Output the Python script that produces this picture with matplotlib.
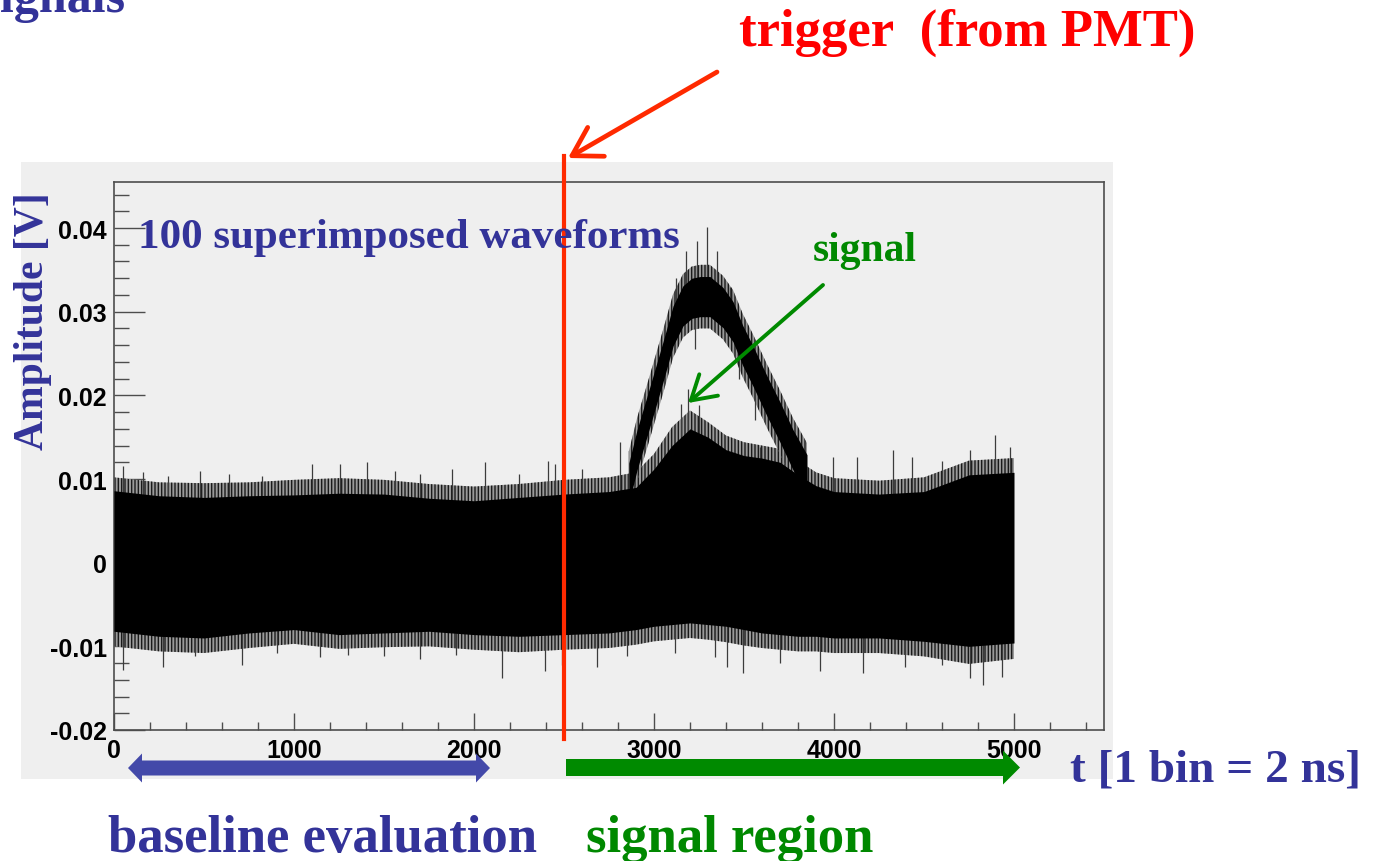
import numpy as np
import matplotlib.pyplot as plt
import matplotlib.transforms as mtransforms
from matplotlib.patches import Rectangle, Polygon, FancyArrowPatch, ArrowStyle
from matplotlib.ticker import MultipleLocator, FixedLocator

# ---- data (bins of 2 ns, amplitude in V) ----
env_t = [0, 250, 500, 750, 1000, 1250, 1500, 1750, 2000, 2250, 2500, 2750, 2900,
         3000, 3100, 3200, 3300, 3400, 3500, 3600, 3700, 3800, 3900, 4000, 4250,
         4500, 4750, 5000]
# dense black core of the 100 overlaid traces (small pulse included)
core_hi = [0.0086, 0.0080, 0.0078, 0.0080, 0.0081, 0.0083, 0.0082, 0.0077, 0.0074,
           0.0078, 0.0082, 0.0085, 0.0090, 0.0112, 0.0140, 0.0160, 0.0150, 0.0135,
           0.0128, 0.0125, 0.0120, 0.0105, 0.0092, 0.0085, 0.0082, 0.0085, 0.0105,
           0.0108]
core_lo = [-0.0082, -0.0088, -0.0090, -0.0084, -0.0080, -0.0086, -0.0084, -0.0082,
           -0.0086, -0.0088, -0.0086, -0.0084, -0.0080, -0.0076, -0.0074, -0.0072,
           -0.0074, -0.0076, -0.0080, -0.0084, -0.0086, -0.0088, -0.0088, -0.0090,
           -0.0090, -0.0094, -0.0100, -0.0096]
# ragged fringe just outside the core
fringe_hi = [0.0102, 0.0096, 0.0095, 0.0096, 0.0099, 0.0101, 0.0099, 0.0094, 0.0091,
             0.0094, 0.0099, 0.0102, 0.0108, 0.0130, 0.0162, 0.0182, 0.0168, 0.0152,
             0.0144, 0.0140, 0.0136, 0.0122, 0.0108, 0.0101, 0.0098, 0.0102, 0.0122,
             0.0125]
fringe_lo = [-0.0100, -0.0106, -0.0108, -0.0102, -0.0097, -0.0103, -0.0101, -0.0100,
             -0.0104, -0.0107, -0.0104, -0.0102, -0.0098, -0.0094, -0.0092, -0.0090,
             -0.0092, -0.0095, -0.0099, -0.0102, -0.0104, -0.0106, -0.0106, -0.0108,
             -0.0108, -0.0112, -0.0121, -0.0115]

# the large pulse: centre of its band
pulse_t = [2860, 2906, 2978, 3050, 3106, 3161, 3210, 3256, 3311, 3383, 3439, 3494,
           3550, 3628, 3700, 3772, 3850]
pulse_mid = [0.0095, 0.0135, 0.0187, 0.0240, 0.0283, 0.0307, 0.0316, 0.0318, 0.0318,
             0.0305, 0.0288, 0.0259, 0.0235, 0.0199, 0.0168, 0.0135, 0.0105]
pulse_spread = 0.0024

# isolated excursions (tips) reaching out of the band
up_t = [50, 161, 300, 478, 640, 820, 1100, 1256, 1406, 1560, 1700, 1880, 2061, 2250,
        2411, 2450, 2600, 2811, 2878, 3589, 3994, 4128, 4328, 4433, 4600, 4756, 4894,
        4980]
up_v = [0.0115, 0.0108, 0.0104, 0.0109, 0.0106, 0.0103, 0.0118, 0.0118, 0.0120,
        0.0110, 0.0106, 0.0112, 0.0120, 0.0106, 0.0121, 0.0118, 0.0112, 0.0144,
        0.0135, 0.0138, 0.0126, 0.0126, 0.0135, 0.0126, 0.0122, 0.0135, 0.0153,
        0.0138]
down_t = [50, 272, 450, 711, 906, 1144, 1300, 1500, 1700, 1900, 2156, 2394, 2489,
          2683, 2850, 3117, 3339, 3406, 3494, 3700, 3922, 4161, 4394, 4600, 4756,
          4828, 4933]
down_v = [-0.0128, -0.0125, -0.0112, -0.0122, -0.0108, -0.0113, -0.0110, -0.0112,
          -0.0115, -0.0110, -0.0138, -0.0130, -0.0122, -0.0125, -0.0112, -0.0108,
          -0.0113, -0.0125, -0.0132, -0.0120, -0.0130, -0.0132, -0.0125, -0.0122,
          -0.0138, -0.0146, -0.0137]
# spikes on the pulses: bin, start value, tip value
pk_t = [3120, 3180, 3240, 3294, 3350, 3420, 3230, 3470, 3560, 3150, 3189, 3250]
pk_from = [0.0300, 0.0320, 0.0330, 0.0330, 0.0330, 0.0300, 0.0300, 0.0270, 0.0220,
           0.0150, 0.0155, 0.0150]
pk_to = [0.0340, 0.0372, 0.0385, 0.0401, 0.0372, 0.0330, 0.0255, 0.0220, 0.0170,
         0.0190, 0.0207, 0.0188]

trigger_bin = 2500
x_ticks = [0, 1000, 2000, 3000, 4000, 5000]
y_ticks = [-0.02, -0.01, 0, 0.01, 0.02, 0.03, 0.04]
y_tick_labels = ['-0.02', '-0.01', '0', '0.01', '0.02', '0.03', '0.04']

# ---- figure, in pixel terms of the 1377x862 slide ----
W, H = 1377, 862
fig = plt.figure(figsize=(W / 100, H / 100), dpi=100)
plt.rcParams['hatch.linewidth'] = 1.0


def fx(px):
    return px / W


def fy(py):
    return 1 - py / H


BLUE = '#333399'
GREEN = '#008800'
RED = '#ff0000'
SERIF = 'Liberation Serif'

# grey ROOT pad
fig.patches.append(Rectangle((fx(21), fy(780)), fx(1113) - fx(21), fy(163) - fy(780),
                             transform=fig.transFigure, facecolor='#efefef',
                             edgecolor='none', zorder=-5))

ax = fig.add_axes([fx(114), fy(731), fx(1104) - fx(114), fy(183) - fy(731)])
ax.set_facecolor('none')
ax.set_zorder(1)
ax.set_xlim(0, 5500)
ax.set_ylim(-0.02, 0.0455)

# spiky fringe drawn as a comb of vertical strokes
ax.fill_between(env_t, fringe_lo, fringe_hi, facecolor='#9a9a9a', edgecolor='#1a1a1a',
                hatch='|||||', lw=0, zorder=2)
ax.fill_between(env_t, core_lo, core_hi, color='black', lw=0, zorder=3)
ax.vlines(up_t, 0, up_v, color='#3c3c3c', lw=0.9, zorder=2)
ax.vlines(down_t, 0, down_v, color='#3c3c3c', lw=0.9, zorder=2)

p_mid = np.array(pulse_mid)
ax.fill_between(pulse_t, p_mid - pulse_spread - 0.0014, p_mid + pulse_spread + 0.0014,
                facecolor='#9a9a9a', edgecolor='#1a1a1a', hatch='|||||', lw=0, zorder=2)
ax.fill_between(pulse_t, p_mid - pulse_spread, p_mid + pulse_spread,
                color='black', lw=0, zorder=3)
ax.vlines(pk_t, pk_from, pk_to, color='#3c3c3c', lw=0.9, zorder=2)

# frame and ticks, ROOT style
for s in ax.spines.values():
    s.set_color('#4d4d4d')
    s.set_linewidth(1.2)
ax.xaxis.set_major_locator(FixedLocator(x_ticks))
ax.xaxis.set_minor_locator(MultipleLocator(200))
ax.yaxis.set_major_locator(FixedLocator(y_ticks))
ax.yaxis.set_minor_locator(MultipleLocator(0.002))
ax.set_yticklabels(y_tick_labels)
ax.set_xticklabels([str(v) for v in x_ticks])
ax.tick_params(axis='y', which='major', direction='in', length=22, width=1,
               color='#4d4d4d', pad=5)
ax.tick_params(axis='y', which='minor', direction='in', length=11, width=1,
               color='#4d4d4d')
ax.tick_params(axis='x', which='major', direction='in', length=12, width=1,
               color='#4d4d4d', pad=6)
ax.tick_params(axis='x', which='minor', direction='in', length=6, width=1,
               color='#4d4d4d')
for lab in ax.get_xticklabels() + ax.get_yticklabels():
    lab.set_fontfamily('Liberation Sans')
    lab.set_fontweight('bold')
    lab.set_fontsize(18)

# trigger line, running past the frame
trans = mtransforms.blended_transform_factory(ax.transData, ax.transAxes)
ax.plot([trigger_bin, trigger_bin], [-0.016, 1.047], transform=trans,
        color='#ff2a00', lw=3, clip_on=False, zorder=6)

# open-headed arrows
fig.add_artist(FancyArrowPatch((fx(717), fy(73)), (fx(568), fy(159)),
                               transform=fig.transFigure,
                               arrowstyle=ArrowStyle('->', head_length=1.0, head_width=0.6),
                               mutation_scale=20, color='#ff2a00', lw=3.4,
                               shrinkA=0, shrinkB=0, zorder=7))
fig.add_artist(FancyArrowPatch((fx(823), fy(286)), (fx(688), fy(404)),
                               transform=fig.transFigure,
                               arrowstyle=ArrowStyle('->', head_length=1.0, head_width=0.6),
                               mutation_scale=17, color='#008a00', lw=2.8,
                               shrinkA=0, shrinkB=0, zorder=7))


def band_arrow(x0, x1, yc, shaft, head_w, head_len, both, color):
    """filled block arrow given in slide pixels"""
    pts = [(x1 - head_len, yc - shaft / 2), (x1 - head_len, yc - head_w / 2), (x1, yc),
           (x1 - head_len, yc + head_w / 2), (x1 - head_len, yc + shaft / 2)]
    if both:
        pts += [(x0 + head_len, yc + shaft / 2), (x0 + head_len, yc + head_w / 2), (x0, yc),
                (x0 + head_len, yc - head_w / 2), (x0 + head_len, yc - shaft / 2)]
    else:
        pts += [(x0, yc + shaft / 2), (x0, yc - shaft / 2)]
    fig.patches.append(Polygon([(fx(x), fy(y)) for x, y in pts], closed=True,
                               transform=fig.transFigure, facecolor=color,
                               edgecolor='none', zorder=5))


band_arrow(128, 490, 769, 15, 29, 14, True, '#4349a9')
band_arrow(566, 1020, 768.5, 17, 34, 17, False, '#008a00')

# slide texts
fig.text(fx(125), fy(12), 'Signals', color=BLUE, family=SERIF, weight='bold',
         fontsize=36, ha='right', va='baseline')
fig.text(fx(967), fy(46), 'trigger  (from PMT)', color=RED, family=SERIF,
         weight='bold', fontsize=38, ha='center', va='baseline')
fig.text(fx(138), fy(248), '100 superimposed waveforms', color=BLUE, family=SERIF,
         weight='bold', fontsize=31, ha='left', va='baseline', zorder=8)
fig.text(fx(865), fy(261), 'signal', color=GREEN, family=SERIF, weight='bold',
         fontsize=30, ha='center', va='baseline')
fig.text(fx(33), fy(321), 'Amplitude [V]', color=BLUE, family=SERIF, weight='bold',
         fontsize=30, rotation=90, ha='center', va='center')
fig.text(fx(1070), fy(782), 't [1 bin = 2 ns]', color=BLUE, family=SERIF,
         weight='bold', fontsize=34, ha='left', va='baseline')
fig.text(fx(108), fy(852), 'baseline evaluation', color=BLUE, family=SERIF,
         weight='bold', fontsize=38, ha='left', va='baseline')
fig.text(fx(586), fy(852), 'signal region', color=GREEN, family=SERIF,
         weight='bold', fontsize=38, ha='left', va='baseline')

fig.savefig('out.png', dpi=100, facecolor='white')
